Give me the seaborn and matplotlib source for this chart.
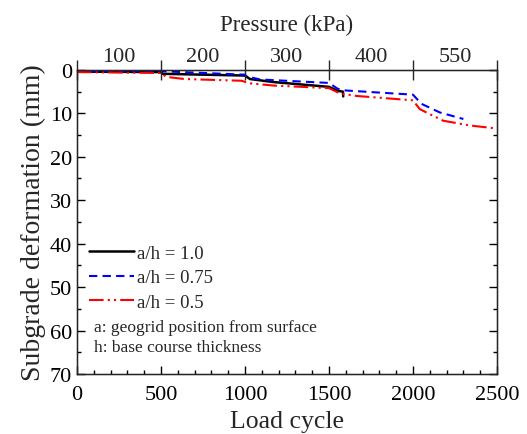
import matplotlib
matplotlib.use('Agg')
import matplotlib.pyplot as plt
import seaborn as sns
import pandas as pd
from matplotlib.ticker import MultipleLocator

# deformation curves
black_x = [0, 500, 510, 1000, 1030, 1170, 1500, 1550, 1583, 1585]
black_y = [0.4, 0.5, 0.9, 1.3, 2.1, 2.8, 3.9, 4.8, 5.0, 6.1]

blue_x = [0, 500, 1000, 1010, 1090, 1500, 1550, 1585, 2000, 2050, 2160, 2300]
blue_y = [0.3, 0.3, 1.1, 1.5, 2.2, 3.0, 4.3, 4.7, 5.7, 7.8, 9.8, 11.3]

red_x = [0, 500, 530, 640, 980, 1030, 1170, 1500, 1565, 1665, 2000, 2040, 2080, 2180, 2340, 2500]
red_y = [0.5, 0.7, 1.6, 2.1, 2.5, 3.1, 3.6, 4.2, 5.4, 6.0, 7.0, 9.0, 9.8, 11.7, 12.8, 13.5]

series_labels = ['a/h = 1.0', 'a/h = 0.75', 'a/h = 0.5']
pressure_labels = ['100', '200', '300', '400', '550']
pressure_pos = [250, 750, 1250, 1750, 2250]

sns.set_style('ticks')
plt.rcParams['font.family'] = ['Liberation Serif', 'DejaVu Serif']

fig = plt.figure(figsize=(5.27, 4.35), dpi=100)
ax = fig.add_axes([0.146, 0.138, 0.797, 0.699])

sns.lineplot(x=black_x, y=black_y, ax=ax, color='black', lw=1.8,
             label=series_labels[0], sort=False)
sns.lineplot(x=blue_x, y=blue_y, ax=ax, color='blue', lw=1.5,
             label=series_labels[1], sort=False)
sns.lineplot(x=red_x, y=red_y, ax=ax, color='red', lw=1.5,
             label=series_labels[2], sort=False)
ax.lines[1].set_dashes([4, 2.5])
ax.lines[2].set_dashes([7, 2, 1, 2, 1, 2])

ax.set_xlim(0, 2500)
ax.set_ylim(70, 0)
ax.xaxis.set_major_locator(MultipleLocator(500))
ax.xaxis.set_minor_locator(MultipleLocator(100))
ax.yaxis.set_major_locator(MultipleLocator(10))
ax.yaxis.set_minor_locator(MultipleLocator(5))
ax.tick_params(which='both', direction='in', right=True, top=False,
               labelsize=16, width=1, colors='black')
ax.tick_params(which='major', length=6)
ax.tick_params(which='minor', length=3)
ax.tick_params(axis='x', pad=8)
ax.set_xlabel('Load cycle', fontsize=18.5, labelpad=4)
ax.set_ylabel('Subgrade deformation (mm)', fontsize=20, labelpad=3)
for s in ax.spines.values():
    s.set_color('black')
    s.set_linewidth(1)

ax2 = ax.twiny()
ax2.set_xlim(0, 2500)
ax2.set_xticks([0, 500, 1000, 1500, 2000, 2500])
ax2.set_xticklabels([])
ax2.set_xticks(pressure_pos, minor=True)
ax2.set_xticklabels(pressure_labels, minor=True)
ax2.tick_params(which='major', direction='inout', length=15, width=1)
ax2.tick_params(which='minor', length=0, labelsize=16, pad=3)
ax2.set_xlabel('Pressure (kPa)', fontsize=16.5, labelpad=12)

leg = ax.legend(loc='upper left', bbox_to_anchor=(0.01, 0.45), frameon=False,
                fontsize=13.5, handlelength=2.4, handletextpad=0.2,
                labelspacing=0.4, borderaxespad=0)
ax.text(0.04, 0.153, 'a: geogrid position from surface', transform=ax.transAxes,
        fontsize=12.5, va='center')
ax.text(0.04, 0.088, 'h: base course thickness', transform=ax.transAxes,
        fontsize=12.5, va='center')

fig.savefig('out.png', dpi=100)
